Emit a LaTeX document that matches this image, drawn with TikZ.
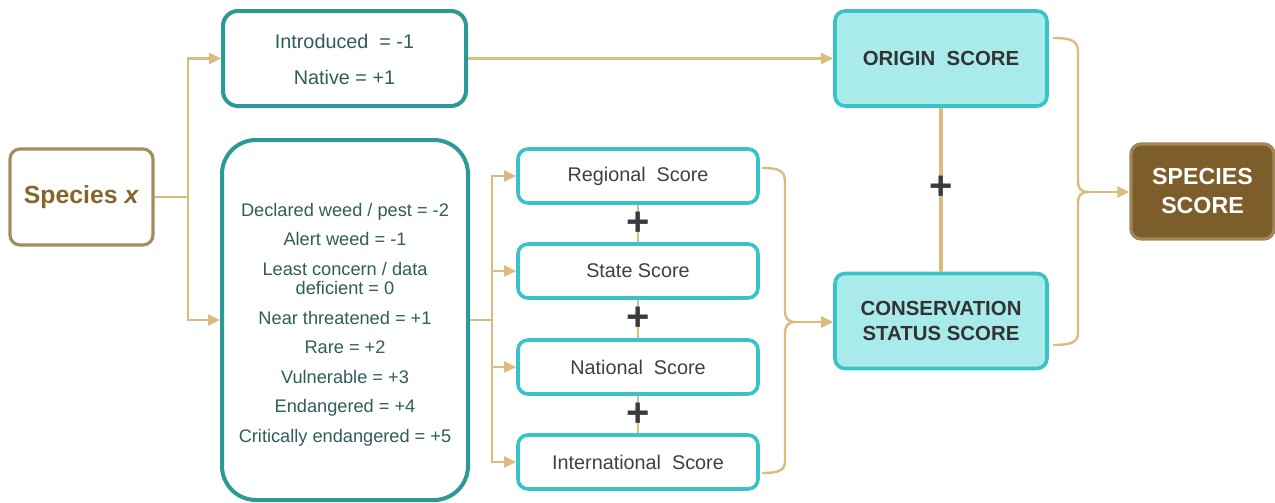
\documentclass[tikz,border=0pt]{standalone}
\usepackage{fontspec}
\setmainfont{Liberation Sans}
\usetikzlibrary{arrows.meta,calc}

\definecolor{tanline}{HTML}{DBBC7E}
\definecolor{tealedge}{HTML}{2B9A94}
\definecolor{cyanedge}{HTML}{38C4C6}
\definecolor{cyanfill}{HTML}{A9EBEA}
\definecolor{brownedge}{HTML}{A38D5E}
\definecolor{browntext}{HTML}{85672B}
\definecolor{brownfill}{HTML}{7D5D2A}
\definecolor{browndeep}{HTML}{A08557}
\definecolor{listtext}{HTML}{2D5E59}
\definecolor{scoretext}{HTML}{404040}
\definecolor{plustext}{HTML}{3B3B3B}
\definecolor{headtext}{HTML}{333333}

\begin{document}
\begin{tikzpicture}[x=0.5pt,y=-0.5pt,
  conn/.style={draw=tanline,line width=1.2pt},
  arr/.style={conn,-{Triangle[length=6pt,width=5.5pt]}},
  startbox/.style={draw=brownedge,line width=1.6pt,fill=white,rounded corners=5pt,
    minimum width=71.5pt,minimum height=48pt,inner sep=0pt,text=browntext,
    font=\fontsize{12.4}{14}\selectfont\bfseries},
  listbox/.style={draw=tealedge,line width=2pt,fill=white,inner sep=0pt,
    text=listtext,align=center},
  scorebox/.style={draw=cyanedge,line width=1.8pt,fill=white,rounded corners=5pt,
    minimum width=120pt,minimum height=27pt,inner sep=0pt,text=scoretext,
    font=\fontsize{9.9}{11}\selectfont},
  sumbox/.style={draw=cyanedge,line width=1.8pt,fill=cyanfill,rounded corners=5pt,
    minimum width=106pt,minimum height=47.5pt,inner sep=0pt,text=headtext,align=center,
    font=\fontsize{10.2}{12.5}\selectfont\bfseries},
  finalbox/.style={draw=browndeep,line width=1.6pt,fill=brownfill,rounded corners=5pt,
    minimum width=71.5pt,minimum height=47.5pt,inner sep=0pt,text=white,align=center,
    font=\fontsize{11.6}{14.5}\selectfont\bfseries},
  plus/.style={inner sep=0pt,text=plustext,font=\fontsize{20}{20}\selectfont\bfseries}
]
\useasboundingbox (0,0) rectangle (1275,503);

% boxes
\node[startbox] (sp) at (81.5,197) {Species \textit{x}};
\node[listbox,rounded corners=7.5pt,minimum width=121.5pt,minimum height=47.5pt,
  font=\fontsize{9.9}{18}\selectfont] (orig) at (344.5,58.5)
  {\rule{0pt}{8.5pt}Introduced\ \ = -1\\Native = +1};
\node[listbox,rounded corners=17pt,minimum width=123pt,minimum height=180pt,
  font=\fontsize{9.1}{9.5}\selectfont] (cons) at (345,320)
  {\rule{0pt}{11.2pt}Declared weed / pest = -2\\[5.3pt]
   Alert weed = -1\\[5.3pt]
   Least concern / data\\deficient = 0\\[5.3pt]
   Near threatened = +1\\[5.3pt]
   Rare = +2\\[5.3pt]
   Vulnerable = +3\\[5.3pt]
   Endangered = +4\\[5.3pt]
   Critically endangered = +5};

\node[scorebox] (reg) at (638,176) {Regional\ \ Score};
\node[scorebox] (sta) at (638,271) {State Score};
\node[scorebox] (nat) at (638,367) {National\ \ Score};
\node[scorebox] (int) at (638,462) {International\ \ Score};

\node[sumbox] (os) at (941,58.5) {ORIGIN\ \ SCORE};
\node[sumbox] (cs) at (941,321) {CONSERVATION\\STATUS SCORE};
\node[finalbox] (ss) at (1202.5,191.5) {SPECIES\\SCORE};

% branching from the species
\coordinate (j1) at (188,197);
\draw[conn] (sp.east) -- (j1);
\draw[arr] (j1) |- (orig.west);
\draw[arr] (j1) |- (cons.west);
\draw[arr] (orig.east) -- (os.west);

% branching to the four score levels
\coordinate (j2) at (492,320);
\draw[conn] (cons.east) -- (j2);
\foreach \b in {reg,sta,nat,int} \draw[arr] (j2) |- (\b.west);

% sums between the score levels
\draw[conn] (reg.south) -- (sta.north);
\draw[conn] (sta.south) -- (nat.north);
\draw[conn] (nat.south) -- (int.north);
\node[plus] (p1) at ($(reg.south)!0.5!(sta.north)$) {+};
\node[plus] (p2) at ($(sta.south)!0.5!(nat.north)$) {+};
\node[plus] (p3) at ($(nat.south)!0.5!(int.north)$) {+};

% brace collecting the four levels
\coordinate (b1t) at (762,168);
\coordinate (b1b) at (762,473);
\coordinate (b1m) at (796,322);
\draw[conn] (b1t) .. controls (778,168) and (785,170) .. (785,182)
  -- (785,310) .. controls (785,319) and (788,322) .. (b1m)
  .. controls (788,322) and (785,325) .. (785,334)
  -- (785,461) .. controls (785,471) and (778,473) .. (b1b);
\draw[arr] (b1m) -- (cs.west |- b1m);

% origin plus conservation
\draw[draw=tanline,line width=2pt] (os.south) -- (cs.north);
\node[plus] (p4) at (941,188) {+};

% brace collecting the two scores
\coordinate (b2t) at (1053,38);
\coordinate (b2b) at (1053,345);
\coordinate (b2m) at (1088,192);
\draw[conn] (b2t) .. controls (1070,38) and (1078,40) .. (1078,52)
  -- (1078,180) .. controls (1078,189) and (1081,192) .. (b2m)
  .. controls (1081,192) and (1078,195) .. (1078,204)
  -- (1078,333) .. controls (1078,343) and (1070,345) .. (b2b);
\draw[arr] (b2m) -- (ss.west |- b2m);
\end{tikzpicture}
\end{document}
